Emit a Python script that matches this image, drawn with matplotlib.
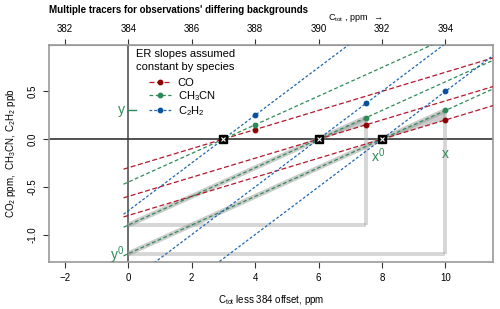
import numpy as np
import matplotlib.pyplot as plt

plt.rcParams['font.family'] = ['Liberation Sans', 'DejaVu Sans']
plt.rcParams['mathtext.fontset'] = 'custom'
plt.rcParams['mathtext.rm'] = 'Liberation Sans'
plt.rcParams['mathtext.it'] = 'Liberation Sans:italic'
plt.rcParams['mathtext.default'] = 'regular'

# --- datos ---
x0_cruce = [3, 6, 8]            # offset donde cada observación cruza y = 0
x_obs = [4, 7.5, 10]            # offset de cada observación
especies = ['CO', 'CH$_3$CN', 'C$_2$H$_2$']
y_obs = {                       # valor observado por especie en x_obs
    'CO': [0.10, 0.15, 0.20],
    'CH$_3$CN': [0.15, 0.225, 0.30],
    'C$_2$H$_2$': [0.25, 0.375, 0.50],
}
colores = {'CO': '#b2182b', 'CH$_3$CN': '#2e8b57', 'C$_2$H$_2$': '#2166ac'}
col_pt = {'CO': '#8b0000', 'CH$_3$CN': '#2e8b57', 'C$_2$H$_2$': '#08519c'}
estilos = {'CO': (0, (4, 2)), 'CH$_3$CN': (0, (3, 2)), 'C$_2$H$_2$': (0, (2.2, 1.6))}
casos_resaltados = [1, 2]       # casos con triángulo gris (CH3CN)
ticks_inf = [-2, 0, 2, 4, 6, 8, 10]
ticks_y = [-1.0, -0.5, 0.0, 0.5]
offset = 384

verde = '#2e8b57'

fig = plt.figure(figsize=(5, 3.09), dpi=100)
ax = fig.add_axes([0.098, 0.153, 0.888, 0.701])
ax.set_xlim(-2.5, 11.5)
ax.set_ylim(-1.284, 0.984)

# ejes de referencia
ax.axvline(0, color='#555555', lw=1.2, zorder=1)
ax.axhline(0, color='#333333', lw=1.2, zorder=1)

xx = np.array([-0.15, 12.0])
for esp in especies:
    for i, x0 in enumerate(x0_cruce):
        pend = y_obs[esp][i] / (x_obs[i] - x0)
        ax.plot(xx, pend * (xx - x0), color=colores[esp], ls=estilos[esp], lw=0.9, zorder=3)
        ax.plot(x_obs[i], y_obs[esp][i], 'o', color=col_pt[esp], ms=3.2, zorder=5)

# triángulos grises de los casos resaltados
gris = '#9a9a9a'
for i in casos_resaltados:
    x0, xo = x0_cruce[i], x_obs[i]
    yv = y_obs['CH$_3$CN'][i]
    yco = y_obs['CO'][i]
    y0 = -yv / (xo - x0) * x0
    ax.plot([0, xo], [y0, yv], color=gris, lw=3.5, alpha=0.5, solid_capstyle='butt', zorder=2)
    ax.plot([0, xo], [y0, y0], color=gris, lw=2.8, alpha=0.4, solid_capstyle='butt', zorder=2)
    ax.plot([xo, xo], [y0, yv], color=gris, lw=2.8, alpha=0.4, solid_capstyle='butt', zorder=2)
    ax.fill([x0, xo, xo], [0, yv, yco], color=gris, alpha=0.5, lw=0, zorder=2)

# cruces con y = 0
ax.plot(x0_cruce, [0] * len(x0_cruce), 's', color='black', ms=5.5, zorder=6)
ax.plot(x0_cruce, [0] * len(x0_cruce), 'x', color='white', ms=3.5, mew=0.8, zorder=7)

# etiquetas x, x0, y, y0 (caso x0 = 8)
i = 2
yv = y_obs['CH$_3$CN'][i]
y0 = -yv / (x_obs[i] - x0_cruce[i]) * x0_cruce[i]
ax.text(x_obs[i], -0.08, 'x', color=verde, fontsize=10, ha='center', va='top')
ax.text(x0_cruce[i] - 0.12, -0.08, 'x$^0$', color=verde, fontsize=10, ha='center', va='top')
ax.plot([-0.02, 0.25], [yv, yv], color=verde, lw=1, zorder=4)
ax.text(-0.12, yv, 'y', color=verde, fontsize=10, ha='right', va='center')
ax.text(-0.12, y0 - 0.02, 'y$^0$', color=verde, fontsize=10, ha='right', va='center')

# ejes
for s in ax.spines.values():
    s.set_color('#999999')
    s.set_linewidth(1.2)
ax.set_xticks(ticks_inf)
ax.set_yticks(ticks_y)
ax.set_yticklabels([f'{v:.1f}' for v in ticks_y], rotation=90, va='center')
ax.tick_params(labelsize=7, length=4, color='#333333', pad=4)
ax.set_xlabel('C$_{tot}$ less 384 offset, ppm', fontsize=7, labelpad=7)
ax.set_ylabel('CO$_2$ ppm,  CH$_3$CN, C$_2$H$_2$ ppb', fontsize=7, labelpad=7)

sec = ax.secondary_xaxis('top', functions=(lambda v: v + offset, lambda v: v - offset))
sec.set_xticks([t + offset for t in ticks_inf])
sec.tick_params(labelsize=7, length=4, color='#333333', pad=4)
for s in sec.spines.values():
    s.set_color('#999999')
ax.text(0.69, 1.125, 'C$_{tot}$ , ppm  $\\rightarrow$', transform=ax.transAxes,
        fontsize=6.5, ha='center', va='center')
fig.text(0.098, 0.967, "Multiple tracers for observations' differing backgrounds",
         fontsize=7, fontweight='bold', ha='left', va='center')

# leyenda (título aparte, entradas sangradas)
ax.text(0.197, 0.98, 'ER slopes assumed\nconstant by species', transform=ax.transAxes,
        fontsize=8, ha='left', va='top', linespacing=1.3)
handles = [plt.Line2D([], [], color=colores[e], ls=estilos[e], lw=0.9, marker='o',
                      ms=3.2, mfc=col_pt[e], mec=col_pt[e]) for e in especies]
leg = ax.legend(handles, especies, loc='upper left', bbox_to_anchor=(0.225, 0.85),
                frameon=False, fontsize=8, handlelength=2.0, handletextpad=0.6,
                labelspacing=0.12, borderpad=0, borderaxespad=0)

fig.savefig('out.png', dpi=100)
